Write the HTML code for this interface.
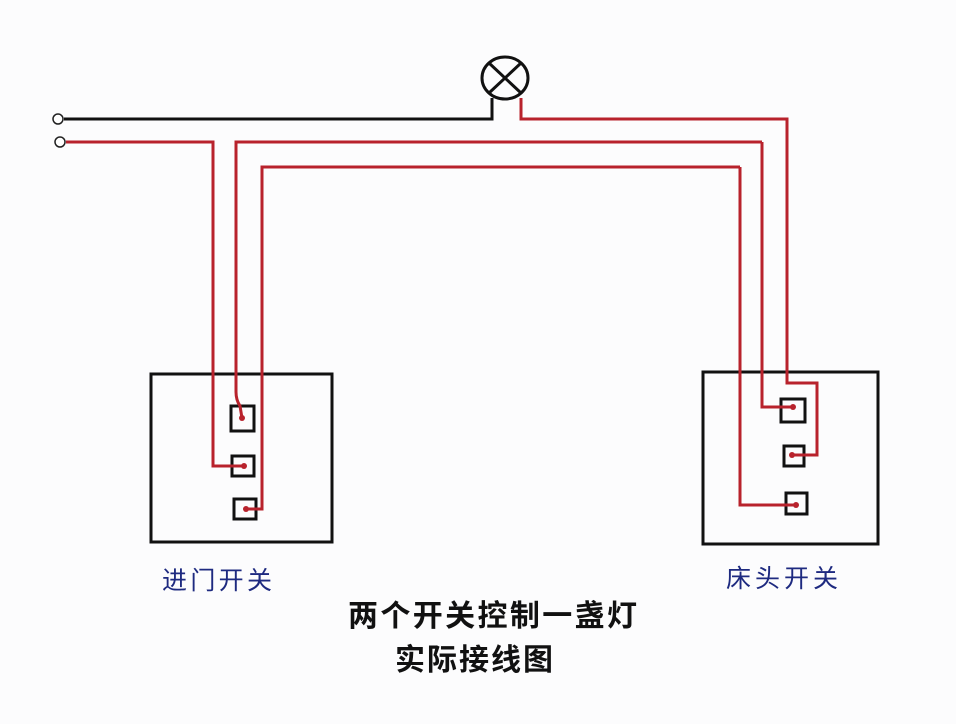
<!DOCTYPE html>
<html><head><meta charset="utf-8"><style>
html,body{margin:0;padding:0;background:#fcfcfd;}
svg{display:block}
</style></head><body>
<svg width="956" height="724" viewBox="0 0 956 724" xmlns="http://www.w3.org/2000/svg">
<rect width="956" height="724" fill="#fcfcfd"/>
<g fill="none" stroke="#111" stroke-width="3">
<ellipse cx="505" cy="78" rx="23" ry="21"/>
<line x1="489" y1="63" x2="521" y2="93"/>
<line x1="521" y1="63" x2="489" y2="93"/>
<polyline points="64,119 492,119 492,98"/>
<rect x="151" y="374" width="181" height="168"/>
<rect x="703" y="372" width="175" height="172"/>
<rect x="231" y="406" width="23" height="25"/>
<rect x="232" y="456" width="22" height="20"/>
<rect x="234" y="499" width="22" height="20"/>
<rect x="781" y="399" width="24" height="23"/>
<rect x="784" y="446" width="20" height="20"/>
<rect x="786" y="493" width="21" height="21"/>
</g>
<g fill="#fff" stroke="#222" stroke-width="1.5">
<circle cx="58" cy="119" r="5"/>
<circle cx="60" cy="142" r="5"/>
</g>
<g fill="none" stroke="#b8222c" stroke-width="3">
<polyline points="521,98 521,119 787,119 787,383 817,383 817,455 792,455"/>
<polyline points="66,142 213,142 213,466 244,466"/>
<path d="M762,142 L236,142 L236,392 Q236,400 240,406 L242,418"/>
<polyline points="762,142 762,407 793,407"/>
<polyline points="740,167 262,167 262,509 245,509"/>
<polyline points="740,167 740,505 796,505"/>
</g>
<g fill="#b8222c">
<circle cx="242" cy="418" r="3"/><circle cx="244" cy="466" r="3"/><circle cx="246" cy="509" r="3"/>
<circle cx="793" cy="407" r="3"/><circle cx="792" cy="455" r="3"/><circle cx="796" cy="505" r="3"/>
</g>
<g font-family="'Liberation Sans','Noto Sans CJK SC',sans-serif">
<text x="162" y="589" font-size="25" fill="#1e2a80" textLength="110">进门开关</text>
<text x="726" y="587" font-size="25" fill="#1e2a80" textLength="112">床头开关</text>
<text x="348" y="626" font-size="30" font-weight="bold" fill="#111" textLength="289">两个开关控制一盏灯</text>
<text x="395" y="670" font-size="30" font-weight="bold" fill="#111" textLength="158">实际接线图</text>
</g>
</svg>
</body></html>
